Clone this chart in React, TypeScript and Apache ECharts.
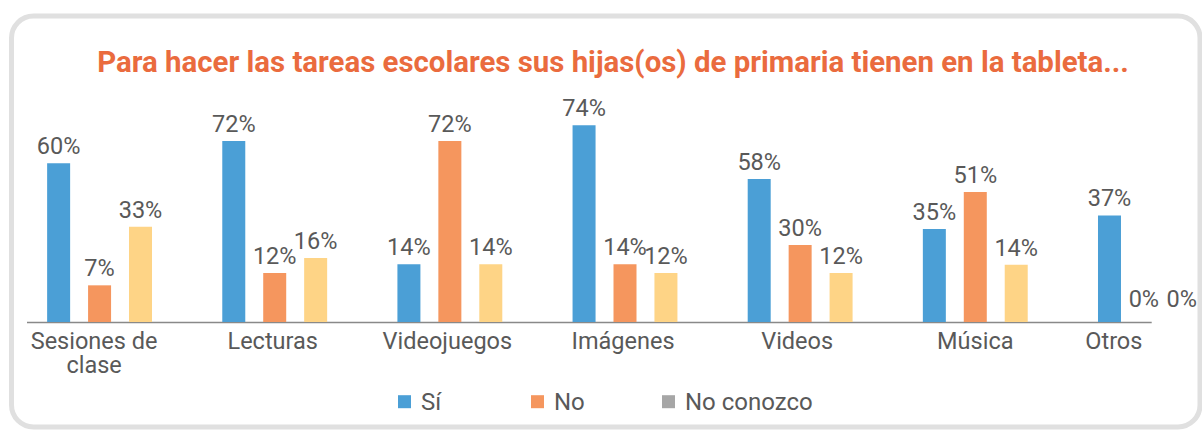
import React, { useEffect, useRef } from "react";
import * as echarts from "echarts";

const TITLE = "Para hacer las tareas escolares sus hijas(os) de primaria tienen en la tableta...";
const categories = ["Sesiones de\nclase", "Lecturas", "Videojuegos", "Imágenes", "Videos", "Música", "Otros"];
const seriesNames = ["Sí", "No", "No conozco"];

// printed percentages (labels)
const siLabels = [60, 72, 14, 74, 58, 35, 37];
const noLabels = [7, 12, 72, 14, 30, 51, 0];
const ncLabels = [33, 16, 14, 12, 12, 14, 0];

// bar heights as drawn in the picture (same axis units)
const siHeights = [59.7, 68.1, 21.7, 74, 53.8, 35, 40.1];
const noHeights = [13.8, 18.4, 68.1, 21.7, 29, 48.9, 0];
const ncHeights = [35.8, 24.1, 21.7, 18.4, 18.4, 21.5, 0];

const COLORS = ["#4b9fd6", "#f5965e", "#fed486"];
const LEGEND_ICON = ["#4b9fd6", "#f5965e", "#a6a6a6"];
const LABEL_SHIFT = [-5.5, -2, -2.5, -2, -3, 0, -36.6];
const LEGEND_LEFT = [393, 526, 657];
const ZERO_OFFSET_X = [0, -6.6, -9.6];
const FONT = "Roboto";
const TEXT = "#595959";

export default function App() {
  const ref = useRef<HTMLDivElement>(null);
  useEffect(() => {
    if (!ref.current) return;
    const chart = echarts.init(ref.current, null, { renderer: "svg" });
    const heights = [siHeights, noHeights, ncHeights];
    const labels = [siLabels, noLabels, ncLabels];
    const rich: any = {};
    LABEL_SHIFT.forEach((s, i) => {
      rich["c" + i] = {
        fontSize: 23.5,
        fontFamily: FONT,
        color: TEXT,
        lineHeight: 24,
        padding: s < 0 ? [0, -2 * s, 0, 0] : [0, 0, 0, 2 * s],
      };
    });
    const series = seriesNames.map((name, si) => ({
      name,
      type: "bar",
      barWidth: 23,
      barGap: "78%",
      barCategoryGap: "40%",
      itemStyle: { color: COLORS[si] },
      label: {
        show: true,
        position: "top",
        distance: 5,
        fontSize: 23.5,
        fontFamily: FONT,
        color: TEXT,
        formatter: (p: any) => labels[si][p.dataIndex] + "%",
      },
      data: heights[si].map((v, i) =>
        labels[si][i] === 0 ? { value: v, label: { offset: [ZERO_OFFSET_X[si], -6] } } : v
      ),
    }));
    chart.setOption({
      animation: false,
      backgroundColor: "#ffffff",
      title: {
        text: TITLE,
        left: 608,
        textAlign: "center",
        top: 42,
        textStyle: { color: "#ea6b3e", fontSize: 29.4, fontWeight: "bold", fontFamily: FONT },
      },
      legend: seriesNames.map((n, i) => ({
        data: [{ name: n, itemStyle: { color: LEGEND_ICON[i] } }],
        left: LEGEND_LEFT[i],
        top: 384.7,
        icon: "rect",
        itemWidth: 13,
        itemHeight: 13,
        itemGap: 10,
        selectedMode: false,
        textStyle: { fontSize: 24, fontFamily: FONT, color: TEXT, padding: [0, 0, 0, 5] },
      })),
      grid: { left: 12, width: 1226, top: 109.4, bottom: 109, outerBoundsMode: "none", containLabel: false },
      xAxis: {
        type: "category",
        data: categories,
        axisLine: { show: false },
        axisTick: { show: false },
        axisLabel: {
          interval: 0,
          margin: 7,
          formatter: (value: string, index: number) =>
            value.split("\n").map((l) => `{c${index}|${l}}`).join("\n"),
          rich,
        },
      },
      yAxis: { type: "value", min: 0, max: 80, show: false, splitLine: { show: false } },
      series,
      graphic: [
        {
          type: "rect",
          shape: { x: 11.5, y: 16, width: 1188.5, height: 411, r: 22 },
          style: { fill: "none", stroke: "#e0e0e0", lineWidth: 5 },
          z: -1,
        },
        {
          type: "line",
          shape: { x1: 27, y1: 322.5, x2: 1151.7, y2: 322.5 },
          style: { stroke: "#898989", lineWidth: 1.5 },
        },
      ],
    });
    return () => chart.dispose();
  }, []);
  return (
    <div
      ref={ref}
      style={{ position: "absolute", left: 0, top: 0, width: 1202, height: 431 }}
    />
  );
}
